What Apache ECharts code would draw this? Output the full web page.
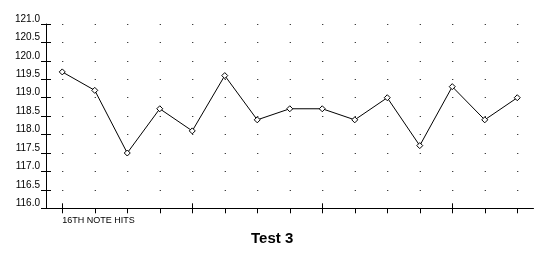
<!DOCTYPE html>
<html>
<head>
<meta charset="utf-8">
<script src="https://cdn.jsdelivr.net/npm/echarts@6/dist/echarts.min.js"></script>
<style>html,body{margin:0;padding:0;background:#fff;}#c{width:540px;height:260px;}</style>
</head>
<body>
<div id="c"></div>
<script>
var categories = ['16TH NOTE HITS','','','','','','','','','','','','','',''];
var values = [119.7, 119.2, 117.5, 118.7, 118.1, 119.6, 118.4, 118.7, 118.7, 118.4, 119.0, 117.7, 119.3, 118.4, 119.0];
var yMin = 116.0, yMax = 121.0, yStep = 0.5;
var titleText = 'Test 3';

var chart = echarts.init(document.getElementById('c'), null, {renderer: 'canvas'});
var font = '"Liberation Sans", Arial, sans-serif';
var bandW = 487.5 / categories.length;
chart.setOption({
  animation: false,
  backgroundColor: '#fff',
  title: {
    text: titleText, left: 251, top: 231, padding: 0,
    textStyle: {fontFamily: font, fontSize: 15, fontWeight: 'bold', color: '#000'}
  },
  grid: {left: 46, top: 24, width: 487.5, height: 184.3},
  xAxis: [{
    type: 'category', data: categories, boundaryGap: true, position: 'bottom',
    axisLine: {lineStyle: {color: '#000', width: 1}},
    axisTick: {show: true, alignWithLabel: true, length: 5, inside: false, lineStyle: {color: '#000'}},
    axisLabel: {interval: 0, align: 'left', margin: 8, fontFamily: font, fontSize: 9, color: '#000'},
    splitLine: {show: false}
  }, {
    type: 'category', data: categories, boundaryGap: true, position: 'bottom',
    axisLine: {show: false},
    axisTick: {show: true, alignWithLabel: true, length: 5, inside: true, lineStyle: {color: '#000'}},
    axisLabel: {show: false},
    splitLine: {show: false}
  }],
  yAxis: [{
    type: 'value', min: yMin, max: yMax, interval: yStep, position: 'left',
    axisLine: {show: true, lineStyle: {color: '#000', width: 1}},
    axisTick: {show: true, length: 5, inside: false, lineStyle: {color: '#000'}},
    axisLabel: {margin: 6, verticalAlign: 'bottom', lineHeight: 10, fontFamily: font, fontSize: 10, color: '#000',
      formatter: function (v) { return v.toFixed(1); }},
    splitLine: {show: true, lineStyle: {color: '#000', width: 1, type: [1, bandW - 1], dashOffset: bandW / 2}}
  }, {
    type: 'value', min: yMin, max: yMax, interval: yStep, position: 'left',
    axisLine: {show: false},
    axisTick: {show: true, length: 5, inside: true, lineStyle: {color: '#000'}},
    axisLabel: {show: false},
    splitLine: {show: false}
  }],
  series: [{
    type: 'line', data: values, xAxisIndex: 0, yAxisIndex: 0,
    symbol: 'diamond', symbolSize: 6, showSymbol: true,
    lineStyle: {color: '#000', width: 1},
    itemStyle: {color: '#fff', borderColor: '#000', borderWidth: 1}
  }]
});
</script>
</body>
</html>
